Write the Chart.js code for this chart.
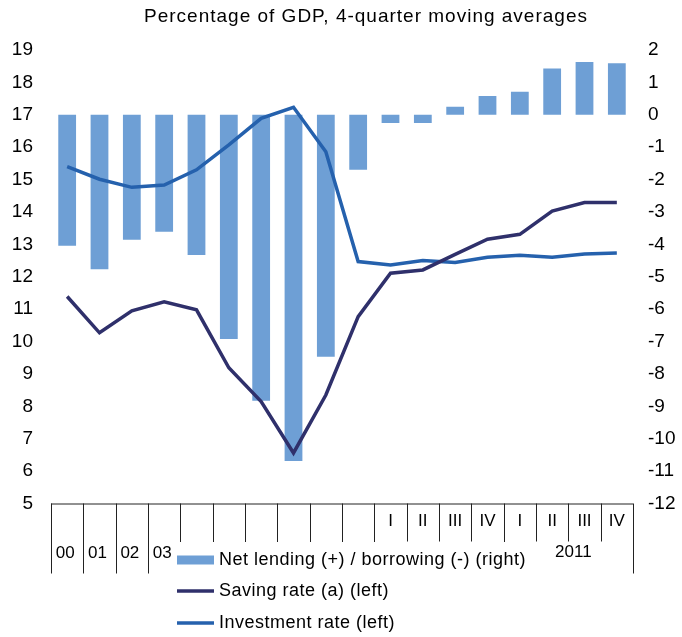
<!DOCTYPE html>
<html>
<head>
<meta charset="utf-8">
<script src="https://cdn.jsdelivr.net/npm/chart.js@4/dist/chart.umd.min.js"></script>
<style>
  body { margin: 0; background: #fff; }
  #chart { display: block; }
</style>
</head>
<body>
<canvas id="chart" width="682" height="637"></canvas>
<script>
// Data
const categories = ["00", "01", "02", "03", "04", "05", "06", "07", "08", "09",
  "2010 I", "2010 II", "2010 III", "2010 IV", "2011 I", "2011 II", "2011 III", "2011 IV"];
const quarterLabels = ["", "", "", "", "", "", "", "", "", "", "I", "II", "III", "IV", "I", "II", "III", "IV"];
const yearLabels = ["00", "01", "02", "03", "04", "05", "06", "07", "08", "09"];
const groupLabels = ["2010", "2011"];
const netLending = [-4.04, -4.77, -3.86, -3.61, -4.33, -6.92, -8.83, -10.69, -7.47, -1.70,
  -0.25, -0.25, 0.25, 0.58, 0.71, 1.43, 1.63, 1.59];
const savingRate = [11.39, 10.27, 10.95, 11.23, 10.98, 9.19, 8.15, 6.56, 8.35, 10.77,
  12.11, 12.21, 12.69, 13.16, 13.31, 14.03, 14.29, 14.29];
const investmentRate = [15.40, 15.01, 14.76, 14.83, 15.30, 16.07, 16.89, 17.23, 15.86, 12.47,
  12.36, 12.50, 12.44, 12.60, 12.66, 12.60, 12.70, 12.73];

const FONT = "'Liberation Sans', Arial, sans-serif";
const barColor = "#6e9fd5";
const savingColor = "#2f306b";
const investColor = "#2561ad";

// x axis with two label rows, separators, title and legend
const axisPlugin = {
  id: "axisPlugin",
  afterDraw(chart) {
    const { ctx, chartArea, scales: { x } } = chart;
    const half = (x.getPixelForValue(1) - x.getPixelForValue(0)) / 2;
    const bottom = chartArea.bottom;
    ctx.save();

    // axis line
    ctx.strokeStyle = "#222";
    ctx.lineWidth = 1;
    ctx.beginPath();
    ctx.moveTo(chartArea.left, bottom + 0.5);
    ctx.lineTo(chartArea.right, bottom + 0.5);
    ctx.stroke();

    // separators
    const fullLines = [0, 1, 2, 3, 4, 5, 6, 7, 8, 9, 10, 14, 18];
    for (let i = 0; i <= categories.length; i++) {
      const px = Math.round(x.getPixelForValue(0) - half + i * 2 * half) + 0.5;
      const len = fullLines.includes(i) ? 70 : 38;
      ctx.beginPath();
      ctx.moveTo(px, bottom);
      ctx.lineTo(px, bottom + len);
      ctx.stroke();
    }

    // tick labels
    ctx.fillStyle = "#000";
    ctx.font = "17px " + FONT;
    ctx.textAlign = "center";
    ctx.textBaseline = "middle";
    quarterLabels.forEach((l, i) => {
      if (l) ctx.fillText(l, x.getPixelForValue(i), bottom + 18);
    });
    yearLabels.forEach((l, i) => {
      ctx.fillText(l, x.getPixelForValue(i) - 2, bottom + 50);
    });
    groupLabels.forEach((l, g) => {
      const a = x.getPixelForValue(10 + g * 4);
      const b = x.getPixelForValue(13 + g * 4);
      ctx.fillText(l, (a + b) / 2 + 5, bottom + 49);
    });

    // legend (white box over the lower labels)
    ctx.fillStyle = "#fff";
    ctx.fillRect(176, bottom + 38.5, 356, 140);
    ctx.textAlign = "left";
    ctx.font = "18px " + FONT;
    ctx.letterSpacing = "0.5px";
    const rows = [560, 591, 623];
    chart.data.datasets.forEach((ds, i) => {
      const y = rows[i];
      if (ds.type === "bar") {
        ctx.fillStyle = ds.backgroundColor;
        ctx.fillRect(177, y - 4.5, 37, 9);
      } else {
        ctx.strokeStyle = ds.borderColor;
        ctx.lineWidth = 3.5;
        ctx.beginPath();
        ctx.moveTo(177, y);
        ctx.lineTo(214, y);
        ctx.stroke();
      }
      ctx.fillStyle = "#000";
      ctx.fillText(ds.label, 219, y);
    });

    // title
    ctx.font = "19px " + FONT;
    ctx.letterSpacing = "1px";
    ctx.textAlign = "center";
    ctx.textBaseline = "alphabetic";
    ctx.fillText("Percentage of GDP, 4-quarter moving averages", 366, 22);
    ctx.restore();
  }
};

const tickFont = { family: FONT, size: 19 };

new Chart(document.getElementById("chart"), {
  data: {
    labels: categories,
    datasets: [
      {
        type: "bar",
        label: "Net lending (+) / borrowing (-) (right)",
        data: netLending,
        yAxisID: "y1",
        backgroundColor: barColor,
        barPercentage: 0.55,
        categoryPercentage: 1,
        order: 2
      },
      {
        type: "line",
        label: "Saving rate (a) (left)",
        data: savingRate,
        yAxisID: "y",
        borderColor: savingColor,
        borderWidth: 3.5,
        pointRadius: 0,
        tension: 0,
        order: 0
      },
      {
        type: "line",
        label: "Investment rate (left)",
        data: investmentRate,
        yAxisID: "y",
        borderColor: investColor,
        borderWidth: 3.5,
        pointRadius: 0,
        tension: 0,
        order: 1
      }
    ]
  },
  options: {
    responsive: false,
    animation: false,
    layout: { padding: { top: 50, bottom: 133.5, left: 0, right: 0 } },
    plugins: {
      legend: { display: false },
      tooltip: { enabled: false },
      title: { display: false }
    },
    scales: {
      x: { type: "category", display: false, offset: true },
      y: {
        position: "left",
        min: 5,
        max: 19,
        ticks: { stepSize: 1, padding: 18, color: "#000", font: tickFont },
        grid: { display: false, drawTicks: false },
        border: { display: false },
        afterFit(s) { s.width = 51; }
      },
      y1: {
        position: "right",
        min: -12,
        max: 2,
        ticks: { stepSize: 1, padding: 15, color: "#000", font: tickFont },
        grid: { display: false, drawTicks: false },
        border: { display: false },
        afterFit(s) { s.width = 49; }
      }
    }
  },
  plugins: [axisPlugin]
});
</script>
</body>
</html>
